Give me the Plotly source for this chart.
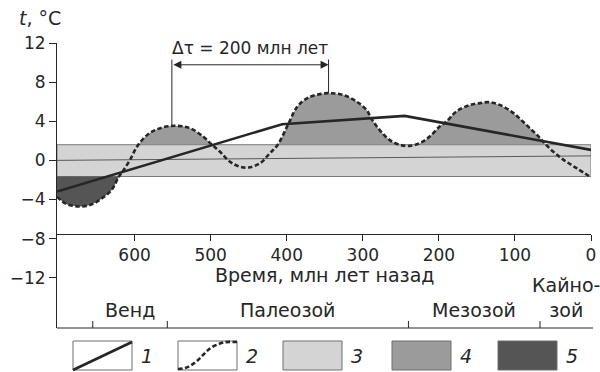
import numpy as np
import plotly.graph_objects as go

# ---------------- data ----------------
ages_curve = [702, 690, 680, 671, 658, 645, 630, 621, 615, 606,
              596, 580, 562, 545, 527, 510, 499, 488, 475, 462,
              450, 435, 422, 412, 398, 386, 372, 355, 343, 326,
              308, 295, 289, 278, 265, 251, 238, 225, 212, 199,
              190, 177, 159, 146, 135, 120, 102, 85, 71, 63,
              50, 36, 19, 0]
temp_curve = [-3.73, -4.45, -4.65, -4.72, -4.55, -4.0, -3.0, -1.7, -1.05, 0.05,
              1.5, 2.8, 3.39, 3.53, 3.29, 2.44, 1.65, 0.9, -0.12, -0.63,
              -0.73, -0.29, 0.74, 1.58, 3.7, 5.5, 6.4, 6.8, 6.87, 6.7,
              6.0, 5.16, 4.31, 3.12, 2.1, 1.58, 1.48, 1.76, 2.44, 3.46,
              3.97, 5.0, 5.67, 5.85, 5.95, 5.67, 4.83, 3.63, 2.6, 1.92,
              0.9, 0.05, -0.8, -1.72]
ages_trend = [702, 406, 245, 0]
temp_trend = [-3.19, 3.7, 4.55, 1.07]
ages_mean = [702, 0]
temp_mean = [0.0, 0.46]
band_top = 1.6
band_bottom = -1.65
era_starts = [655, 557, 240, 67]
era_ends = [557, 240, 67, 0]
era_names = ["Венд", "Палеозой", "Мезозой", "Кайно-<br>зой"]
period_ages = [551, 345]
period_label = "Δτ = 200 млн лет"
x_ticks = [600, 500, 400, 300, 200, 100, 0]
y_ticks = [-12, -8, -4, 0, 4, 8, 12]
y_ticktext = ["−12", "−8", "−4", "0", "4", "8", "12"]
legend_labels = ["1", "2", "3", "4", "5"]

# ---------------- styling ----------------
W, H = 600, 372
ML, MR, MT, MB = 57, 9, 43, 44
PW, PH = W - ML - MR, H - MT - MB
X_RANGE = [702, 0]
Y_RANGE = [-17.14, 12]
INK = "#262626"
C_LIGHT = "#d4d4d4"
C_MED = "#9b9b9b"
C_DARK = "#555555"
C_EDGE = "#7a7a7a"
FONT = "DejaVu Sans, sans-serif"
FS_TICK = 17
FS_TEXT = 19


def px2x(px):
    return (px - ML) / PW


def py2y(py):
    return (H - MB - py) / PH


fig = go.Figure()
n = len(ages_curve)

# medium-grey area: between curve and top of band
fig.add_trace(go.Scatter(x=ages_curve, y=[band_top] * n, mode="lines",
                         line=dict(width=0), hoverinfo="skip", showlegend=False))
fig.add_trace(go.Scatter(x=ages_curve, y=temp_curve, mode="lines", fill="tonexty",
                         fillcolor=C_MED, line=dict(width=0, shape="spline"),
                         hoverinfo="skip", showlegend=False))
# white cover below band top
fig.add_trace(go.Scatter(x=[X_RANGE[0], X_RANGE[1], X_RANGE[1], X_RANGE[0], X_RANGE[0]],
                         y=[band_top, band_top, -6, -6, band_top], mode="lines",
                         fill="toself", fillcolor="white", line=dict(width=0),
                         hoverinfo="skip", showlegend=False))
# light-grey band
fig.add_trace(go.Scatter(x=[X_RANGE[0], X_RANGE[1], X_RANGE[1], X_RANGE[0], X_RANGE[0]],
                         y=[band_top, band_top, band_bottom, band_bottom, band_top],
                         mode="lines", fill="toself", fillcolor=C_LIGHT,
                         line=dict(width=1, color=C_EDGE),
                         hoverinfo="skip", showlegend=False))
# dark area: curve below band bottom
sub = [i for i in range(n) if ages_curve[i] >= 621]
sub_ages = [ages_curve[i] for i in sub]
sub_temp = [temp_curve[i] for i in sub]
fig.add_trace(go.Scatter(x=sub_ages, y=[band_bottom] * len(sub), mode="lines",
                         line=dict(width=0), hoverinfo="skip", showlegend=False))
fig.add_trace(go.Scatter(x=sub_ages, y=sub_temp, mode="lines", fill="tonexty",
                         fillcolor=C_DARK, line=dict(width=0, shape="spline"),
                         hoverinfo="skip", showlegend=False))
# thin mean line
fig.add_trace(go.Scatter(x=ages_mean, y=temp_mean, mode="lines",
                         line=dict(width=1, color="#5a5a5a"),
                         hoverinfo="skip", showlegend=False))
# 1: trend line
fig.add_trace(go.Scatter(x=ages_trend, y=temp_trend, mode="lines",
                         line=dict(width=2.6, color=INK),
                         hoverinfo="skip", showlegend=False))
# 2: dashed curve
fig.add_trace(go.Scatter(x=ages_curve, y=temp_curve, mode="lines",
                         line=dict(width=2.6, color=INK, dash="4.5px,2.5px", shape="spline"),
                         hoverinfo="skip", showlegend=False))

shapes = []
annotations = []

# period marks
for a in period_ages:
    ybot = float(np.interp(a, ages_curve[::-1], temp_curve[::-1]))
    shapes.append(dict(type="line", xref="x", yref="y", x0=a, x1=a, y0=ybot, y1=12,
                       line=dict(color=INK, width=1)))
annotations.append(dict(x=period_ages[1], y=9.77, ax=period_ages[0], ay=9.77,
                        xref="x", yref="y", axref="x", ayref="y", text="",
                        showarrow=True, arrowhead=2, startarrowhead=2,
                        arrowside="end+start", arrowsize=1.6, startarrowsize=1.6,
                        arrowwidth=1, arrowcolor=INK, standoff=0, startstandoff=0))
annotations.append(dict(x=(period_ages[0] + period_ages[1]) / 2, y=11.5, xref="x", yref="y",
                        text=period_label, showarrow=False, xanchor="center",
                        font=dict(size=FS_TICK, color=INK, family=FONT),
                        bgcolor="white", yanchor="middle"))

# era axis along bottom
shapes.append(dict(type="line", xref="paper", yref="paper", x0=0, x1=px2x(593), y0=0, y1=0,
                   line=dict(color=INK, width=1)))
for a in era_starts:
    shapes.append(dict(type="line", xref="x", yref="paper", x0=a, x1=a,
                       y0=0, y1=7 / PH, line=dict(color=INK, width=1)))
for s, e, name in zip(era_starts, era_ends, era_names):
    annotations.append(dict(x=(s + e) / 2, y=py2y(323), xref="x", yref="paper",
                            text=name, showarrow=False, yanchor="bottom", xanchor="center",
                            font=dict(size=FS_TEXT, color=INK, family=FONT)))

# axis titles
annotations.append(dict(x=0.5, y=py2y(275), xref="paper", yref="paper",
                        text="Время, млн лет назад", showarrow=False,
                        yanchor="middle", xanchor="center",
                        font=dict(size=FS_TEXT, color=INK, family=FONT)))
annotations.append(dict(x=px2x(40), y=py2y(18), xref="paper", yref="paper",
                        text="<i>t</i>, °C", showarrow=False,
                        yanchor="middle", xanchor="center",
                        font=dict(size=FS_TEXT, color=INK, family=FONT)))

# legend
box_lefts = [73, 178, 283, 392, 498]
box_w, box_top, box_bot = 59, 341, 370
fills = [None, None, C_LIGHT, C_MED, C_DARK]
for i, (bl, lab) in enumerate(zip(box_lefts, legend_labels)):
    shapes.append(dict(type="rect", xref="paper", yref="paper",
                       x0=px2x(bl), x1=px2x(bl + box_w), y0=py2y(box_bot), y1=py2y(box_top),
                       fillcolor=fills[i] if fills[i] else "white",
                       line=dict(color="#6e6e6e", width=1)))
    annotations.append(dict(x=px2x(bl + box_w + 15), y=py2y((box_top + box_bot) / 2),
                            xref="paper", yref="paper", text="<i>" + lab + "</i>",
                            showarrow=False, yanchor="middle", xanchor="center",
                            font=dict(size=FS_TEXT, color=INK, family=FONT)))
# legend line glyphs
bl = box_lefts[0]
shapes.append(dict(type="line", xref="paper", yref="paper",
                   x0=px2x(bl), y0=py2y(box_bot), x1=px2x(bl + box_w), y1=py2y(box_top + 1),
                   line=dict(color=INK, width=2.6)))
bl = box_lefts[1]
pts = [(bl, box_bot - 1), (bl + 18, box_bot - 1), (bl + 25, box_top + 10), (bl + 36, box_top + 5),
       (bl + 48, box_top + 1), (bl + box_w, box_top + 1)]
p = "M {:.5f},{:.5f} C {:.5f},{:.5f} {:.5f},{:.5f} {:.5f},{:.5f} S {:.5f},{:.5f} {:.5f},{:.5f}".format(
    *[v for (a, b) in pts for v in (px2x(a), py2y(b))])
shapes.append(dict(type="path", xref="paper", yref="paper", path=p,
                   line=dict(color=INK, width=2.6, dash="4.5px,2.5px")))

fig.update_layout(
    width=W, height=H, margin=dict(l=ML, r=MR, t=MT, b=MB, autoexpand=False),
    plot_bgcolor="white", paper_bgcolor="white",
    font=dict(family=FONT, size=FS_TICK, color=INK),
    xaxis=dict(range=X_RANGE, tickvals=x_ticks, ticktext=[str(v) for v in x_ticks],
               anchor="free", position=(-7.5 - Y_RANGE[0]) / (Y_RANGE[1] - Y_RANGE[0]),
               showline=True, linecolor=INK, linewidth=1, ticks="outside", ticklen=6,
               tickcolor=INK, showgrid=False, zeroline=False, automargin=False,
               tickfont=dict(size=FS_TICK, color=INK, family=FONT)),
    yaxis=dict(range=Y_RANGE, tickvals=y_ticks, ticktext=y_ticktext,
               showline=True, linecolor=INK, linewidth=1, ticks="outside", ticklen=7,
               tickcolor=INK, showgrid=False, zeroline=False, automargin=False,
               tickfont=dict(size=FS_TICK, color=INK, family=FONT)),
    shapes=shapes, annotations=annotations, showlegend=False,
)

fig.write_html("out.html", config={"displayModeBar": False},
               post_script="document.body.style.margin='0';")
